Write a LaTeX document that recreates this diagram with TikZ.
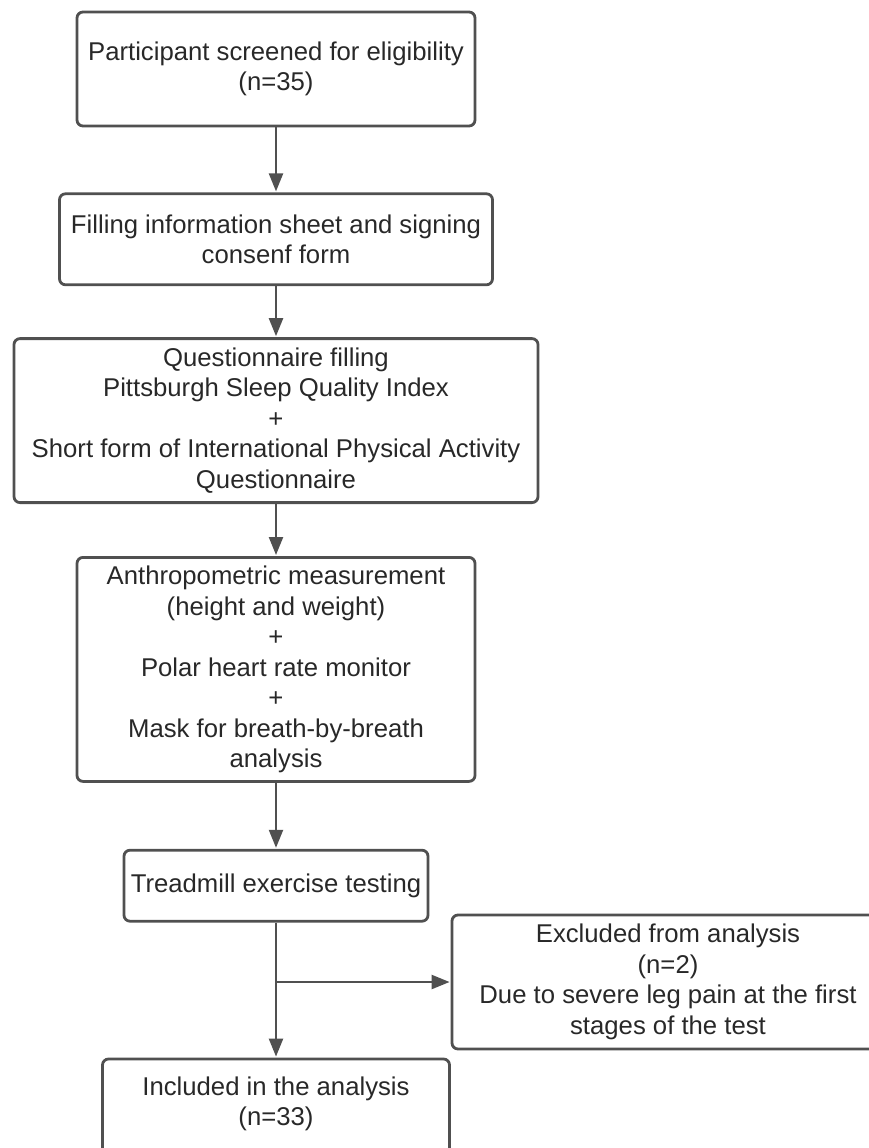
\documentclass[tikz,border=0pt]{standalone}
\usepackage{fontspec}
\setmainfont{Liberation Sans}
\usetikzlibrary{arrows.meta,positioning}
\definecolor{linegray}{RGB}{80,80,80}
\definecolor{textgray}{RGB}{40,40,40}

\begin{document}
\begin{tikzpicture}[x=1pt,y=-1pt,>={Triangle[length=18pt,width=14pt]},shorten >=1pt,
    flowbox/.style={draw=linegray,line width=2.8pt,rounded corners=6pt,align=center,
      text=textgray,inner sep=2pt,font=\fontsize{25.7}{30.5}\selectfont},
    flowline/.style={draw=linegray,line width=2.3pt,->}]
                  \useasboundingbox (0,0) rectangle (869,1148);
                  \node[flowbox,minimum width=398pt,minimum height=114pt] (screen) at (276,69)
                        {Participant screened for eligibility\\(n=35)};
                  \node[flowbox,minimum width=433pt,minimum height=91pt]  (consent) [below=65pt of screen]
                        {Filling information sheet and signing\\consenf form};
                  \node[flowbox,minimum width=524pt,minimum height=164pt] (quest) [below=51pt of consent]
                        {Questionnaire filling\\Pittsburgh Sleep Quality Index\\+\\Short form of International Physical Activity\\Questionnaire};
                  \node[flowbox,minimum width=398pt,minimum height=224pt] (anthro) [below=52pt of quest]
                        {Anthropometric measurement\\(height and weight)\\+\\Polar heart rate monitor\\+\\Mask for breath-by-breath\\analysis};
                  \node[flowbox,minimum width=304pt,minimum height=71pt]  (tread) [below=66pt of anthro]
                        {Treadmill exercise testing};
                  \node[flowbox,minimum width=347pt,minimum height=110pt,text depth=26pt] (incl) [below=135pt of tread]
                        {Included in the analysis\\(n=33)};
                  \node[flowbox,minimum width=432pt,minimum height=134pt] (excl) at (668,982)
                        {Excluded from analysis\\(n=2)\\Due to severe leg pain at the first\\stages of the test};
                  \coordinate (split) at (tread.south |- excl.west);

                      \path
                               (screen) edge[flowline] (consent)
                               (consent) edge[flowline] (quest)
                               (quest) edge[flowline] (anthro)
                               (anthro) edge[flowline] (tread)
                               (tread) edge[flowline] (incl)
                               (split) edge[flowline] (excl);
        \end{tikzpicture}
\end{document}
